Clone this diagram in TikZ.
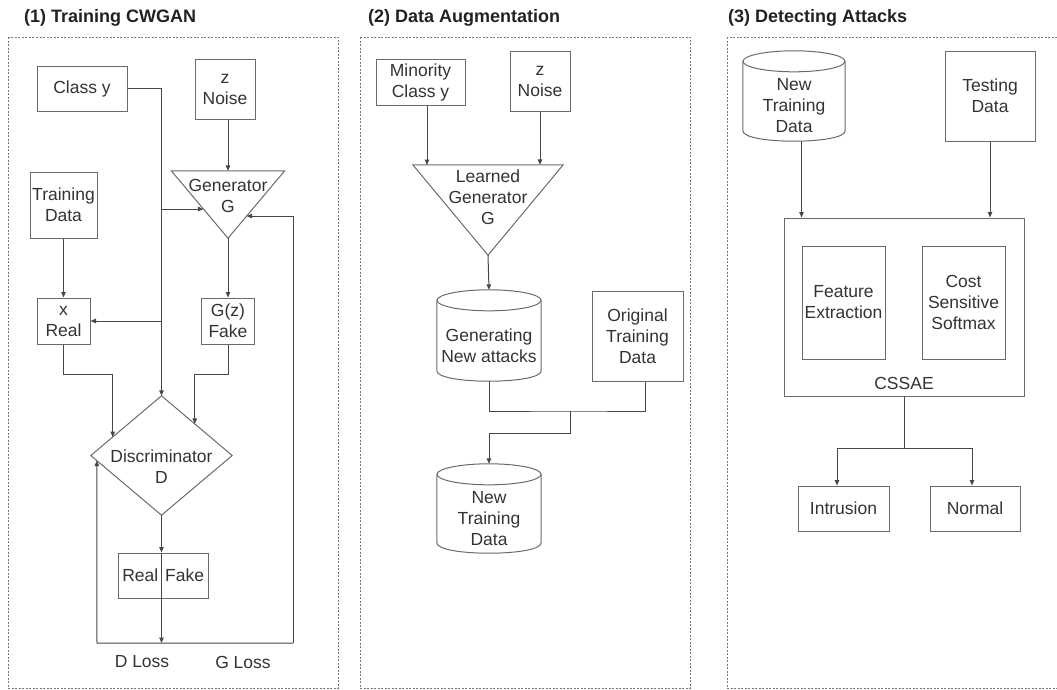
\documentclass[tikz,border=0pt]{standalone}
\usepackage{fontspec}
\setmainfont{Liberation Sans}
\usetikzlibrary{arrows.meta,calc}

\definecolor{ink}{HTML}{333333}
\definecolor{heading}{HTML}{222222}
\definecolor{edge}{HTML}{6A6A6A}
\definecolor{wire}{HTML}{474747}
\definecolor{frm}{HTML}{7A7A7A}

% cylinder outline around an invisible node: name, half width, cap radius
\newcommand\cylout[3]{%
  \draw[boxline] ($(#1.north)+(0,#3)$) ellipse [x radius=#2pt, y radius=#3pt];
  \draw[boxline] ($(#1.north west)+(0,#3)$) -- ($(#1.south west)+(0,-#3)$)
    .. controls ($(#1.south west)+(0,{#3/3})$) and ($(#1.south east)+(0,{#3/3})$) ..
    ($(#1.south east)+(0,-#3)$) -- ($(#1.north east)+(0,#3)$);}

\begin{document}
\begin{tikzpicture}[x=1pt,y=-1pt,
  txt/.style={text=ink,font=\fontsize{17.5}{21}\selectfont,align=center,inner sep=0pt},
  box/.style={txt,draw=edge,line width=1pt},
  shapebox/.style={inner sep=0pt,draw=none},
  boxline/.style={draw=edge,line width=1pt},
  wireline/.style={draw=wire,line width=1pt},
  arr/.style={wireline,-{Triangle[length=5.5pt,width=4.5pt]}},
  frame/.style={draw=frm,line width=0.8pt,dash pattern=on 2pt off 1.5pt},
  heading/.style={text=heading,font=\fontsize{18}{21}\selectfont\bfseries,inner sep=0pt,anchor=west}]
\useasboundingbox (0,0) rectangle (1057,689);

% panel frames and headings
\draw[frame] (8,37) rectangle (338,688);
\draw[frame] (360,37) rectangle (690,688);
\draw[frame] (727,37) rectangle (1060,688);
\node[heading] (h1) at (24,18) {(1) Training CWGAN};
\node[heading] (h2) at (368,18) {(2) Data Augmentation};
\node[heading] (h3) at (728,18) {(3) Detecting Attacks};

% ---------- (1) Training CWGAN ----------
\node[box,minimum width=90pt,minimum height=45pt] (classy) at (82,88.5) {Class y};
\node[box,minimum width=60pt,minimum height=60pt] (znoise) at (225,89) {z\\Noise};
\node[box,minimum width=67pt,minimum height=66pt] (train) at (63.5,205) {Training\\Data};
\node[box,minimum width=53pt,minimum height=46pt] (xreal) at (63.5,321) {x\\Real};
\node[box,minimum width=53pt,minimum height=46pt] (gz) at (228,321) {G(z)\\Fake};

% generator triangle
\node[shapebox,minimum width=113pt,minimum height=67pt] (gen) at (228,204.5) {};
\draw[boxline] (gen.north west) -- (gen.north east) -- (gen.south) -- cycle;
\node[txt] (gentext) at (228,196) {Generator\\G};
\coordinate (genL) at ($(gen.north west)!0.567!(gen.south)$);
\coordinate (genR) at ($(gen.north east)!0.672!(gen.south)$);

% discriminator diamond
\node[shapebox,minimum width=141pt,minimum height=119pt] (disc) at (161.5,455.5) {};
\draw[boxline] (disc.north) -- (disc.east) -- (disc.south) -- (disc.west) -- cycle;
\node[txt] (disctext) at (161.5,466.5) {Discriminator\\D};
\coordinate (discUL) at ($(disc.west)!0.31!(disc.north)$);
\coordinate (discUR) at ($(disc.north)!0.471!(disc.east)$);
\coordinate (discLL) at ($(disc.west)!0.085!(disc.south)$);

% real / fake output box
\node[box,minimum width=90pt,minimum height=45pt] (rf) at (163,575.5) {};
\node[txt,anchor=east] (rtext) at (158.5,575.5) {Real};
\node[txt,anchor=west] (ftext) at (165,575.5) {Fake};

\node[txt] (dloss) at (142,662) {D Loss};
\node[txt] (gloss) at (243,662) {G Loss};

\coordinate (fbR) at (293,643);
\coordinate (fbL) at (97,643);

% connectors of panel 1
\draw[arr] (gen.north |- znoise.south) -- (gen.north);
\draw[arr] (classy.east) -| (disc.north);
\draw[arr] (disc.north |- genL) -- (genL);
\draw[arr] (disc.north |- xreal.east) -- (xreal.east);
\draw[arr] (train.south) -- (xreal.north);
\draw[arr] (gen.south) -- (gz.north);
\draw[arr] (xreal.south) -- ++(0,30) -| (discUL);
\draw[arr] (gz.south) -- ++(0,30) -| (discUR);
\draw[arr] (disc.south) -- (disc.south |- rf.north);
\draw[arr] (disc.south |- rf.north) -- (disc.south |- fbL);
\draw[arr] (fbR) |- (genR);
\draw[arr] (fbR) -- (fbL) -- (discLL);

% ---------- (2) Data Augmentation ----------
\node[box,minimum width=89pt,minimum height=46pt] (minor) at (420.5,82) {Minority\\Class y};
\node[box,minimum width=60pt,minimum height=60pt] (znoise2) at (540,81) {z\\Noise};
\node[shapebox,minimum width=150pt,minimum height=90pt] (lgen) at (488,210) {};
\draw[boxline] (lgen.north west) -- (lgen.north east) -- (lgen.south) -- cycle;
\node[txt] (lgentext) at (488,197.5) {Learned\\Generator\\G};
\coordinate (lgenA) at (427,165);

\node[shapebox,minimum width=104pt,minimum height=91pt] (gna) at (489,335.5) {};
\cylout{gna}{52}{10.5}
\node[txt] (gnatext) at (489,346) {Generating\\New attacks};

\node[box,minimum width=91pt,minimum height=90pt] (otd) at (637.5,336) {Original\\Training\\Data};
\coordinate (otdB) at ($(otd.south)+(7.5,0)$);
\coordinate (jn) at (570,411);

\node[shapebox,minimum width=104pt,minimum height=89pt] (ntd2) at (489,508.5) {};
\cylout{ntd2}{52}{10.5}
\node[txt] (ntd2text) at (489,519) {New\\Training\\Data};

\draw[arr] (minor.south -| lgenA) -- (lgenA);
\draw[arr] (znoise2.south) -- (znoise2.south |- lgen.north);
\draw[arr] (lgen.south) -- (gna.north);
\draw[wireline] (gna.south) |- (jn) -| (otdB);
\draw[arr] (jn) -- ++(0,22) -| (ntd2.north);

% ---------- (3) Detecting Attacks ----------
\node[shapebox,minimum width=102pt,minimum height=90pt] (ntd3) at (794,96) {};
\cylout{ntd3}{51}{10.5}
\node[txt] (ntd3text) at (794,106) {New\\Training\\Data};
\node[box,minimum width=90pt,minimum height=90pt] (test) at (990,96) {Testing\\Data};

\node[box,minimum width=240pt,minimum height=178pt] (cssae) at (904,307) {};
\node[txt] (cssaetext) at (904,383) {CSSAE};
\node[box,minimum width=83pt,minimum height=113pt] (feat) at (843.5,302.5) {Feature\\Extraction};
\node[box,minimum width=83pt,minimum height=113pt] (soft) at (963.5,302.5) {Cost\\Sensitive\\Softmax};
\coordinate (cssaeA) at ($(cssae.north west)+(18,0)$);

\node[box,minimum width=91pt,minimum height=45pt] (intr) at (843.5,508.5) {Intrusion};
\node[box,minimum width=90pt,minimum height=45pt] (norm) at (975,508.5) {Normal};

\draw[arr] (ntd3.south -| cssaeA) -- (cssaeA);
\draw[arr] (test.south) -- (test.south |- cssae.north);
\draw[wireline] (cssae.south) -- ++(0,52) coordinate (sp);
\draw[arr] (sp) -| ($(intr.north)+(-6.5,0)$);
\draw[arr] (sp) -| ($(norm.north)+(-3,0)$);
\end{tikzpicture}
\end{document}
